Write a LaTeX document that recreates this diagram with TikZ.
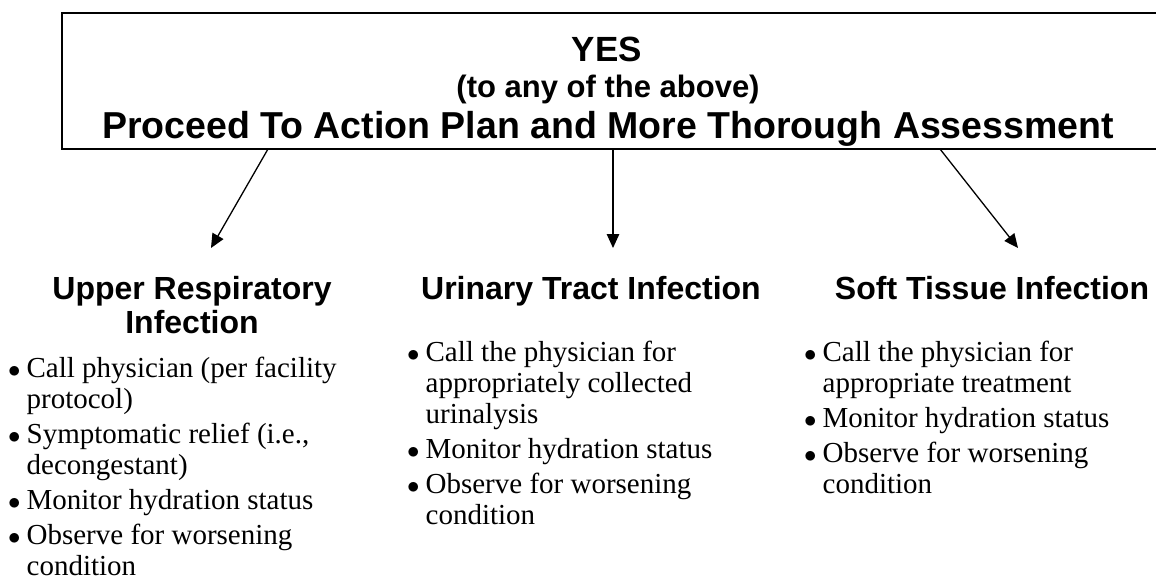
\documentclass[tikz,border=0pt]{standalone}
\usepackage{fontspec}
\setmainfont{Liberation Serif}
\setsansfont{Liberation Sans}
\usetikzlibrary{arrows.meta}
\newcommand{\bdot}{{\fontsize{26}{26}\selectfont$\bullet$}}

\begin{document}
\begin{tikzpicture}[x=1pt,y=-1pt,
  title/.style={font=\sffamily\bfseries\fontsize{#1}{#1}\selectfont,anchor=base,inner sep=0pt},
  head/.style={font=\sffamily\bfseries\fontsize{32}{34}\selectfont,anchor=base,inner sep=0pt},
  blist/.style={font=\fontsize{29}{31}\selectfont,anchor=base west,inner sep=0pt},
  arr/.style={line width=1.3pt,-{Triangle[length=14pt,width=12.5pt]}}]
\useasboundingbox (0,0) rectangle (1156,586);
\clip (0,0) rectangle (1156,586);
\node[draw,line width=2pt,anchor=north west,minimum width=1150pt,minimum height=136pt,inner sep=0pt](yesbox) at (61,12){};
\node[title=35](yes) at (607,62){YES};
\node[title=31](any) at (608,97){(to any of the above)};
\node[title=37.5](plan) at (608,138){Proceed To Action Plan and More Thorough Assessment};
% arrow ends
\coordinate (s1) at (268,149);
\coordinate (s2) at (613,149);
\coordinate (s3) at (940,149);
\coordinate (t1) at (211,248);
\coordinate (t2) at (613,248);
\coordinate (t3) at (1018,248);
\foreach \a/\b in {s1/t1,s2/t2,s3/t3}
  \draw[arr](\a)--(\b);
% the three columns
\node[head](uri) at (192,299){\begin{tabular}[t]{@{}c@{}}Upper Respiratory\\Infection\end{tabular}};
\node[head](uti) at (591,299){Urinary Tract Infection};
\node[head](sti) at (992,299){Soft Tissue Infection};
\node[blist](urilist) at (8,377){\begin{tabular}[t]{@{}l@{\hspace{6pt}}l@{}}
  \bdot & Call physician (per facility\\
        & protocol)\\[4pt]
  \bdot & Symptomatic relief (i.e.,\\
        & decongestant)\\[4pt]
  \bdot & Monitor hydration status\\[4pt]
  \bdot & Observe for worsening\\
        & condition
\end{tabular}};
\node[blist](utilist) at (407,361){\begin{tabular}[t]{@{}l@{\hspace{6pt}}l@{}}
  \bdot & Call the physician for\\
        & appropriately collected\\
        & urinalysis\\[4pt]
  \bdot & Monitor hydration status\\[4pt]
  \bdot & Observe for worsening\\
        & condition
\end{tabular}};
\node[blist](stilist) at (804,361){\begin{tabular}[t]{@{}l@{\hspace{6pt}}l@{}}
  \bdot & Call the physician for\\
        & appropriate treatment\\[4pt]
  \bdot & Monitor hydration status\\[4pt]
  \bdot & Observe for worsening\\
        & condition
\end{tabular}};
\end{tikzpicture}
\end{document}
